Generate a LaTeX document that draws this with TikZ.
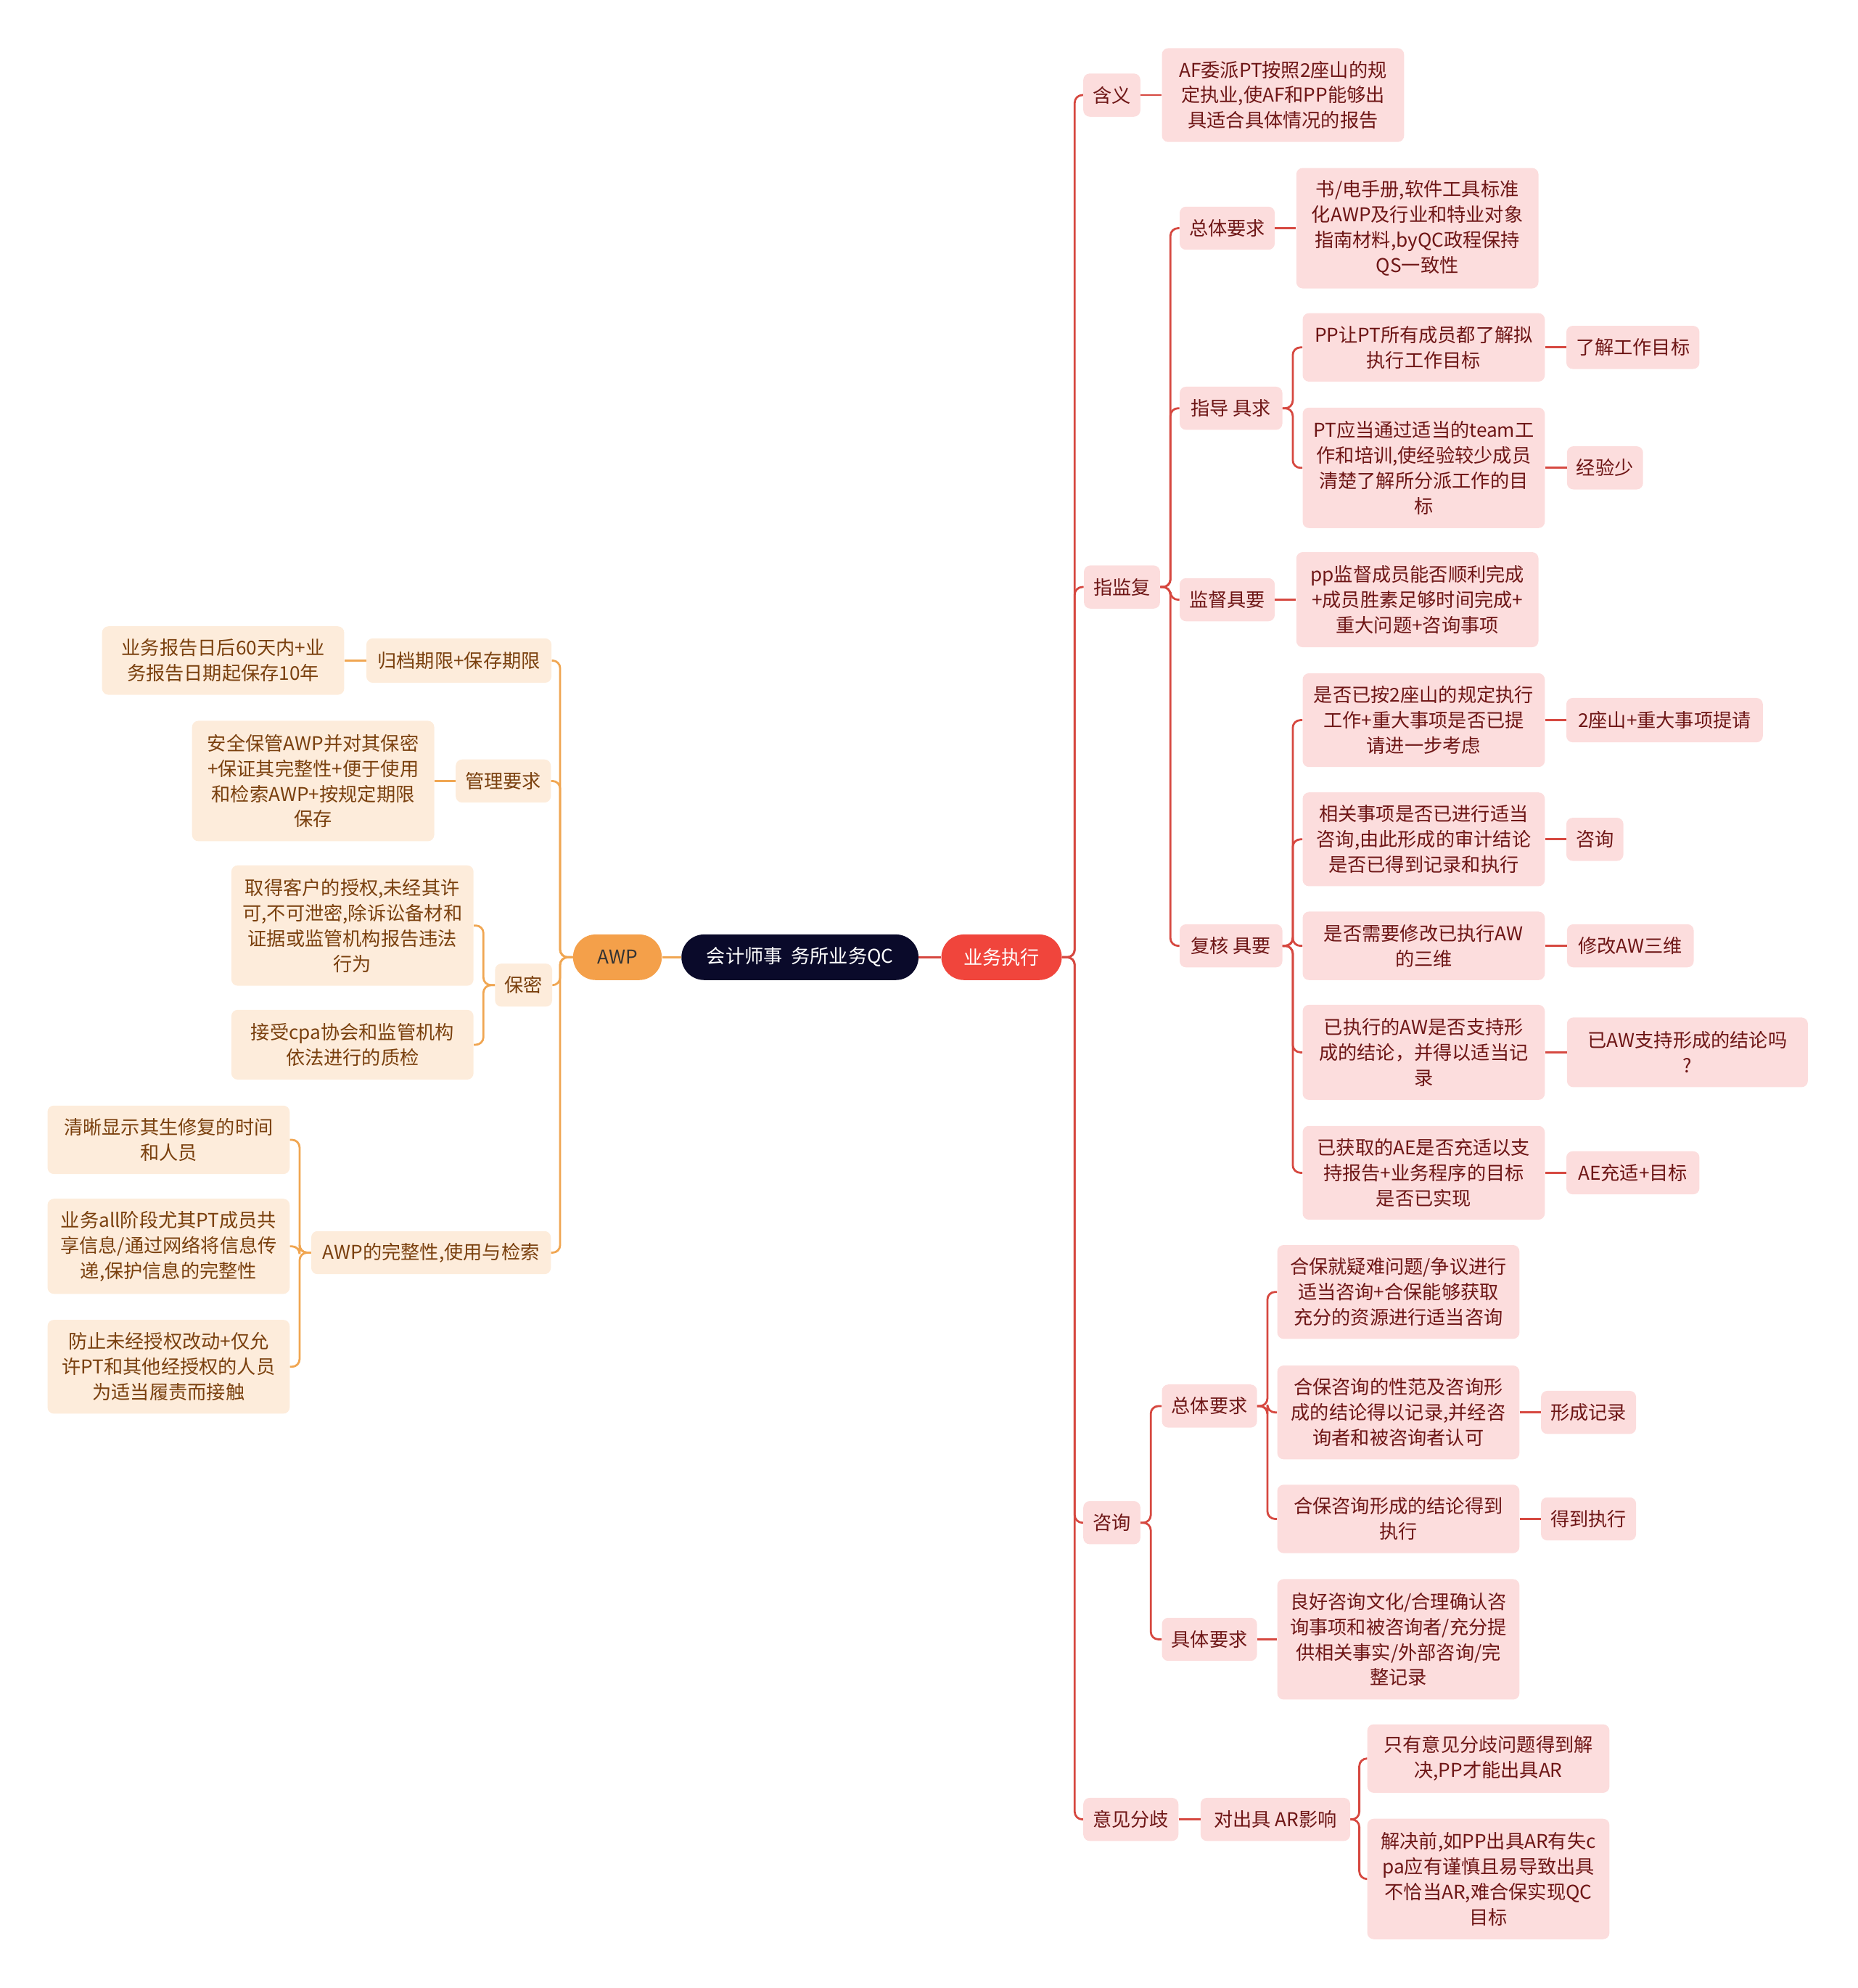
\documentclass[tikz,border=0pt]{standalone}
\usepackage{fontspec}
\usepackage{xcolor}
\usepackage{tikz}
\newfontfamily\cjk{Noto Sans CJK SC}

\definecolor{redfill}{RGB}{252,221,221}
\definecolor{redtext}{RGB}{110,22,22}
\definecolor{redln}{RGB}{214,72,64}
\definecolor{orgfill}{RGB}{253,236,219}
\definecolor{orgtext}{RGB}{122,64,14}
\definecolor{orgln}{RGB}{240,166,82}
\definecolor{execred}{RGB}{240,69,60}
\definecolor{awporg}{RGB}{244,160,74}
\definecolor{navy}{RGB}{10,10,42}

\tikzset{
  base/.style={font=\cjk\fontsize{15}{20}\selectfont,rounded corners=5pt,align=center,inner sep=0pt},
  rbox/.style={base,fill=redfill,text=redtext},
  lbox/.style={base,fill=orgfill,text=orgtext},
  sz/.style 2 args={minimum width=#1pt,minimum height=#2pt},
  rl/.style={draw=redln,line width=1.6pt,rounded corners=6pt},
  ol/.style={draw=orgln,line width=1.6pt,rounded corners=6pt}
}

\begin{document}
\begin{tikzpicture}[x=1pt,y=-1pt]
  \useasboundingbox (0,0) rectangle (1465,1568);

  % middle
  \node[base,fill=navy,text=white,rounded corners=18pt,sz={187}{36}] (qc) at (631,755) {会计师事\ \ 务所业务QC};
  \node[base,fill=execred,text=white,rounded corners=18pt,sz={95}{36}] (exec) at (790,755) {业务执行};
  \node[base,fill=awporg,text=black!80,rounded corners=18pt,sz={70}{36}] (awp) at (487,755) {AWP};
  \draw[rl] (qc.east) -- (exec.west);
  \draw[ol] (qc.west) -- (awp.east);

  % right side
  \node[rbox,sz={45}{34}] (hanyi) at (877,75) {含义};
  \node[rbox,sz={191}{74}] (hanyiA) at (1012,75) {AF委派PT按照2座山的规\\定执业,使AF和PP能够出\\具适合具体情况的报告};
  \node[rbox,sz={60}{34}] (zjf) at (885,463) {指监复};
  \node[rbox,sz={45}{34}] (zixun) at (877,1201) {咨询};
  \node[rbox,sz={75}{34}] (yjfq) at (892,1435) {意见分歧};
  \foreach \n in {hanyi,zjf,zixun,yjfq}
    \draw[rl] (exec.east) -- ++(10,0) |- (\n.west);
  \draw[rl] (hanyi.east) -- (hanyiA.west);

  \node[rbox,sz={75}{34}] (ztyq) at (968,180) {总体要求};
  \node[rbox,sz={191}{95}] (ztyqA) at (1118,180) {书/电手册,软件工具标准\\化AWP及行业和特业对象\\指南材料,byQC政程保持\\QS一致性};
  \node[rbox,sz={81}{34}] (zdjq) at (971,322) {指导 具求};
  \node[rbox,sz={75}{34}] (jdjy) at (968,473) {监督具要};
  \node[rbox,sz={191}{75}] (jdA) at (1118,473) {pp监督成员能否顺利完成\\+成员胜素足够时间完成+\\重大问题+咨询事项};
  \node[rbox,sz={81}{34}] (fhjy) at (971,746) {复核 具要};
  \foreach \n in {ztyq,zdjq,jdjy,fhjy}
    \draw[rl] (zjf.east) -- ++(8,0) |- (\n.west);
  \draw[rl] (ztyq.east) -- (ztyqA.west);
  \draw[rl] (jdjy.east) -- (jdA.west);

  \node[rbox,sz={191}{54}] (zdA) at (1123,274) {PP让PT所有成员都了解拟\\执行工作目标};
  \node[rbox,sz={105}{34}] (zdAx) at (1288,274) {了解工作目标};
  \node[rbox,sz={191}{95}] (zdB) at (1123,369) {PT应当通过适当的team工\\作和培训,使经验较少成员\\清楚了解所分派工作的目\\标};
  \node[rbox,sz={60}{34}] (zdBx) at (1266,369) {经验少};
  \foreach \n in {zdA,zdB}
    \draw[rl] (zdjq.east) -- ++(8,0) |- (\n.west);
  \draw[rl] (zdA.east) -- (zdAx.west);
  \draw[rl] (zdB.east) -- (zdBx.west);

  \node[rbox,sz={191}{74}] (fhA) at (1123,568) {是否已按2座山的规定执行\\工作+重大事项是否已提\\请进一步考虑};
  \node[rbox,sz={155}{35}] (fhAx) at (1313,568) {2座山+重大事项提请};
  \node[rbox,sz={191}{74}] (fhB) at (1123,662) {相关事项是否已进行适当\\咨询,由此形成的审计结论\\是否已得到记录和执行};
  \node[rbox,sz={45}{34}] (fhBx) at (1258,662) {咨询};
  \node[rbox,sz={191}{54}] (fhC) at (1123,746) {是否需要修改已执行AW\\的三维};
  \node[rbox,sz={100}{34}] (fhCx) at (1286,746) {修改AW三维};
  \node[rbox,sz={191}{75}] (fhD) at (1123,830) {已执行的AW是否支持形\\成的结论，并得以适当记\\录};
  \node[rbox,sz={190}{55}] (fhDx) at (1331,830) {已AW支持形成的结论吗\\?};
  \node[rbox,sz={191}{74}] (fhE) at (1123,925) {已获取的AE是否充适以支\\持报告+业务程序的目标\\是否已实现};
  \node[rbox,sz={105}{34}] (fhEx) at (1288,925) {AE充适+目标};
  \foreach \n in {fhA,fhB,fhC,fhD,fhE} {
    \draw[rl] (fhjy.east) -- ++(8,0) |- (\n.west);
    \draw[rl] (\n.east) -- (\n x.west);
  }

  \node[rbox,sz={75}{34}] (zxzt) at (954,1109) {总体要求};
  \node[rbox,sz={75}{34}] (zxjt) at (954,1293) {具体要求};
  \foreach \n in {zxzt,zxjt}
    \draw[rl] (zixun.east) -- ++(8,0) |- (\n.west);
  \node[rbox,sz={191}{74}] (zxA) at (1103,1019) {合保就疑难问题/争议进行\\适当咨询+合保能够获取\\充分的资源进行适当咨询};
  \node[rbox,sz={191}{74}] (zxB) at (1103,1114) {合保咨询的性范及咨询形\\成的结论得以记录,并经咨\\询者和被咨询者认可};
  \node[rbox,sz={75}{34}] (zxBx) at (1253,1114) {形成记录};
  \node[rbox,sz={191}{54}] (zxC) at (1103,1198) {合保咨询形成的结论得到\\执行};
  \node[rbox,sz={75}{34}] (zxCx) at (1253,1198) {得到执行};
  \foreach \n in {zxA,zxB,zxC}
    \draw[rl] (zxzt.east) -- ++(8,0) |- (\n.west);
  \draw[rl] (zxB.east) -- (zxBx.west);
  \draw[rl] (zxC.east) -- (zxCx.west);
  \node[rbox,sz={191}{95}] (zxD) at (1103,1293) {良好咨询文化/合理确认咨\\询事项和被咨询者/充分提\\供相关事实/外部咨询/完\\整记录};
  \draw[rl] (zxjt.east) -- (zxD.west);

  \node[rbox,sz={118}{34}] (yjAR) at (1006,1435) {对出具 AR影响};
  \draw[rl] (yjfq.east) -- (yjAR.west);
  \node[rbox,sz={191}{54}] (yjA) at (1174,1387) {只有意见分歧问题得到解\\决,PP才能出具AR};
  \node[rbox,sz={191}{95}] (yjB) at (1174,1482) {解决前,如PP出具AR有失c\\pa应有谨慎且易导致出具\\不恰当AR,难合保实现QC\\目标};
  \foreach \n in {yjA,yjB}
    \draw[rl] (yjAR.east) -- ++(7,0) |- (\n.west);

  % left side
  \node[lbox,sz={146}{35}] (gd) at (362,521) {归档期限+保存期限};
  \node[lbox,sz={75}{34}] (gl) at (397,616) {管理要求};
  \node[lbox,sz={45}{34}] (bm) at (413,777) {保密};
  \node[lbox,sz={189}{34}] (wz) at (340,988) {AWP的完整性,使用与检索};
  \foreach \n in {gd,gl,bm,wz}
    \draw[ol] (awp.west) -- ++(-10,0) |- (\n.east);

  \node[lbox,sz={191}{54}] (gdA) at (176,521) {业务报告日后60天内+业\\务报告日期起保存10年};
  \draw[ol] (gd.west) -- (gdA.east);
  \node[lbox,sz={191}{95}] (glA) at (247,616) {安全保管AWP并对其保密\\+保证其完整性+便于使用\\和检索AWP+按规定期限\\保存};
  \draw[ol] (gl.west) -- (glA.east);

  \node[lbox,sz={191}{95}] (bmA) at (278,730) {取得客户的授权,未经其许\\可,不可泄密,除诉讼备材和\\证据或监管机构报告违法\\行为};
  \node[lbox,sz={191}{55}] (bmB) at (278,824) {接受cpa协会和监管机构\\依法进行的质检};
  \foreach \n in {bmA,bmB}
    \draw[ol] (bm.west) -- ++(-9,0) |- (\n.east);

  \node[lbox,sz={191}{54}] (wzA) at (133,899) {清晰显示其生修复的时间\\和人员};
  \node[lbox,sz={191}{75}] (wzB) at (133,983) {业务all阶段尤其PT成员共\\享信息/通过网络将信息传\\递,保护信息的完整性};
  \node[lbox,sz={191}{74}] (wzC) at (133,1078) {防止未经授权改动+仅允\\许PT和其他经授权的人员\\为适当履责而接触};
  \foreach \n in {wzA,wzB,wzC}
    \draw[ol] (wz.west) -- ++(-9,0) |- (\n.east);
\end{tikzpicture}
\end{document}
